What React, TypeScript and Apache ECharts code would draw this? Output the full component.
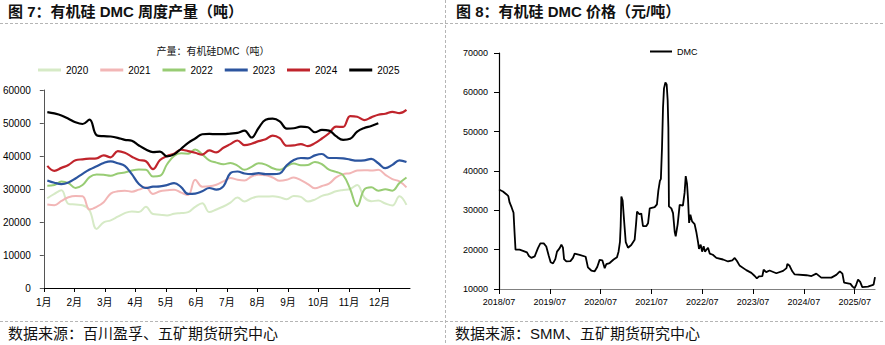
import React, { useEffect, useRef } from "react";
import * as echarts from "echarts";

const MONTH_LABELS = ["1月", "2月", "3月", "4月", "5月", "6月", "7月", "8月", "9月", "10月", "11月", "12月"];
const YEARS = ["2020", "2021", "2022", "2023", "2024", "2025"];
const YEAR_COLORS = ["#d6eac6", "#f2b6b6", "#98cc74", "#2c559f", "#c0242c", "#000000"];
const YEAR_WIDTHS = [2, 2, 2, 2.2, 2.2, 2.2];

const PROD_2020 = [27200, 28500, 29600, 25500, 25300, 25100, 23500, 17900, 19900, 20500,
  21600, 22700, 23200, 23000, 24600, 22400, 22200, 22000, 22500, 22700,
  23000, 24600, 25700, 23000, 23800, 24700, 25900, 27400, 26200, 27200,
  27700, 27700, 27800, 27500, 26900, 27900, 27600, 26200, 26800, 27900,
  28500, 29300, 29700, 30000, 31200, 27500, 26300, 26500, 25600, 25000,
  27800, 25200];
const PROD_2021 = [25300, 25100, 26400, 27500, 27900, 27800, 23800, 24600, 26000, 28600,
  29300, 29500, 29200, 29800, 30500, 28500, 29300, 29600, 29800, 28900,
  28200, 32800, 30700, 30800, 31300, 32300, 33300, 32800, 32600, 33800,
  34300, 34200, 33500, 32500, 32800, 33500, 32700, 31500, 30200, 30900,
  31600, 33500, 34500, 34800, 35600, 35700, 35600, 35800, 34300, 33000,
  32300, 30500];
const PROD_2022 = [31000, 31200, 32300, 31800, 30300, 31200, 33600, 34400, 34300, 34000,
  34700, 35000, 35600, 35900, 35800, 33800, 34000, 37500, 40000, 40800,
  40700, 42000, 40500, 38700, 38000, 37500, 37900, 37100, 35800, 36700,
  37800, 37400, 36300, 35800, 36900, 37700, 37200, 37300, 38200, 37500,
  35900, 35200, 34200, 30000, 24800, 29800, 30500, 29500, 29900, 29500,
  31800, 33500];
const PROD_2023 = [32600, 31900, 31500, 32000, 33200, 34600, 35900, 36900, 37900, 38400,
  37800, 37000, 34500, 31500, 30300, 30700, 30800, 31200, 31800, 30600,
  28500, 28600, 29300, 30300, 29800, 30800, 34800, 35300, 34700, 34500,
  34800, 34500, 34500, 34700, 37200, 38800, 39400, 39300, 40200, 40600,
  39400, 39400, 39300, 38900, 38600, 38700, 39100, 37800, 36300, 37300,
  38700, 38200];
const PROD_2024 = [37000, 35500, 36400, 37300, 38700, 39000, 39200, 39300, 40200, 39600,
  41500, 41000, 39800, 38800, 38400, 36000, 38800, 40000, 40700, 41900,
  41500, 41000, 40400, 41700, 41100, 42500, 43600, 44700, 43300, 43700,
  44500, 45100, 46200, 45400, 43100, 43200, 43600, 43000, 43900, 45300,
  46900, 48900, 48800, 52100, 51900, 50900, 51700, 52500, 52800, 53400,
  53000, 54000];
const PROD_2025 = [53300, 52900, 52300, 51300, 50200, 49700, 51000, 46300, 46000, 45900,
  45500, 44900, 44600, 43200, 42000, 41200, 41300, 39900, 40500, 42200,
  44000, 45300, 46600, 46700, 46600, 46600, 46800, 47000, 47700, 45600,
  48500, 51000, 51300, 50500, 48300, 48400, 48900, 48700, 47200, 47900,
  47700, 46000, 44900, 45200, 47400, 48500, 49100, 49900];
const PRODUCTION = [PROD_2020, PROD_2021, PROD_2022, PROD_2023, PROD_2024, PROD_2025];

const PRICE_YEAR_LABELS = ["2018/07", "2019/07", "2020/07", "2021/07", "2022/07", "2023/07", "2024/07", "2025/07"];
const DMC_PRICE: [string, number][] = [
  ["2018-07-01", 35300], ["2018-07-29", 34800], ["2018-08-23", 34100], ["2018-09-07", 33600],
  ["2018-09-16", 32000], ["2018-09-30", 30800], ["2018-10-14", 29400], ["2018-10-21", 24500],
  ["2018-10-28", 20000], ["2018-11-27", 20000], ["2018-12-21", 19700], ["2019-01-19", 19300],
  ["2019-02-03", 18400], ["2019-02-20", 17900], ["2019-03-14", 18300], ["2019-04-07", 20400],
  ["2019-04-24", 21600], ["2019-05-18", 21600], ["2019-06-06", 20800], ["2019-06-23", 18500],
  ["2019-07-07", 16800], ["2019-07-24", 16500], ["2019-08-10", 17600], ["2019-08-22", 19500],
  ["2019-09-11", 20400], ["2019-09-23", 21300], ["2019-10-04", 20500], ["2019-10-12", 17600],
  ["2019-10-28", 17000], ["2019-11-27", 17100], ["2019-12-15", 17900], ["2019-12-27", 19000],
  ["2020-02-02", 18700], ["2020-03-15", 18200], ["2020-04-01", 15500], ["2020-04-25", 14700],
  ["2020-05-19", 14500], ["2020-06-07", 15600], ["2020-06-24", 17400], ["2020-07-13", 17300],
  ["2020-07-30", 15300], ["2020-08-11", 16300], ["2020-09-05", 16600], ["2020-10-03", 17500],
  ["2020-10-27", 18100], ["2020-11-08", 19500], ["2020-11-18", 22000], ["2020-11-23", 26000],
  ["2020-11-28", 33500], ["2020-12-07", 32500], ["2020-12-17", 27500], ["2020-12-29", 21900],
  ["2021-01-15", 20500], ["2021-02-08", 21200], ["2021-03-02", 22500], ["2021-03-12", 26500],
  ["2021-03-19", 29700], ["2021-04-07", 29000], ["2021-04-19", 29200], ["2021-05-01", 26000],
  ["2021-05-25", 26000], ["2021-06-07", 26700], ["2021-06-19", 30500], ["2021-07-24", 30800],
  ["2021-08-10", 31500], ["2021-08-20", 35000], ["2021-09-01", 37500], ["2021-09-08", 38000],
  ["2021-09-16", 46000], ["2021-09-23", 56000], ["2021-09-30", 61000], ["2021-10-10", 62500],
  ["2021-10-19", 62000], ["2021-10-26", 58000], ["2021-11-01", 51000], ["2021-11-05", 31000],
  ["2021-11-22", 30500], ["2021-12-04", 29300], ["2021-12-16", 24500], ["2021-12-23", 23400],
  ["2022-01-07", 26500], ["2022-01-21", 31400], ["2022-02-14", 31200], ["2022-02-26", 34500],
  ["2022-03-04", 38700], ["2022-03-13", 36800], ["2022-03-20", 33000], ["2022-03-28", 26800],
  ["2022-04-07", 28900], ["2022-04-19", 27200], ["2022-05-07", 26500], ["2022-05-19", 24500],
  ["2022-06-01", 22000], ["2022-06-08", 20200], ["2022-06-20", 21300], ["2022-06-30", 19500],
  ["2022-07-11", 20900], ["2022-07-20", 19500], ["2022-08-12", 20500], ["2022-08-24", 19000],
  ["2022-09-16", 18700], ["2022-10-11", 17900], ["2022-11-28", 17500], ["2023-01-04", 17000],
  ["2023-02-04", 17300], ["2023-02-21", 17900], ["2023-03-07", 17100], ["2023-03-25", 16000],
  ["2023-05-13", 14800], ["2023-06-19", 14100], ["2023-07-13", 13300], ["2023-07-28", 12700],
  ["2023-08-13", 13200], ["2023-09-07", 13300], ["2023-09-16", 14900], ["2023-10-04", 14300],
  ["2023-10-28", 14700], ["2023-12-16", 14000], ["2024-02-04", 14600], ["2024-02-28", 15300],
  ["2024-03-04", 16400], ["2024-03-20", 15900], ["2024-04-09", 14500], ["2024-04-26", 13700],
  ["2024-07-19", 13500], ["2024-08-25", 13300], ["2024-09-29", 13900], ["2024-11-04", 12900],
  ["2025-01-16", 12900], ["2025-02-21", 13600], ["2025-03-16", 14500], ["2025-04-04", 13900],
  ["2025-04-16", 11600], ["2025-06-01", 11300], ["2025-06-16", 10600], ["2025-07-01", 10200],
  ["2025-07-13", 11200], ["2025-07-25", 12400], ["2025-08-10", 11800], ["2025-08-25", 10500],
  ["2025-10-05", 10600], ["2025-11-06", 11000], ["2025-11-15", 11100], ["2025-11-25", 13000],
];

const CJK = "'Liberation Sans', 'Noto Sans CJK SC', sans-serif";
const NUM = "'Liberation Sans', Arial, sans-serif";

function weekToMonth(i: number): number {
  return ((i + 0.5) * 12) / 52;
}
function dateToMonths(d: string): number {
  const [y, m, day] = d.split("-").map(Number);
  return (y - 2018) * 12 + (m - 7) + (day - 1) / 30;
}
const plain = (v: number) => String(v);

export default function App() {
  const ref = useRef<HTMLDivElement>(null);
  useEffect(() => {
    if (!ref.current) return;
    const chart = echarts.init(ref.current, null, { renderer: "svg" });
    const dash = { stroke: "#b5b5b5", lineWidth: 1, lineDash: [3, 2] };
    const option: any = {
      animation: false,
      backgroundColor: "#ffffff",
      textStyle: { fontFamily: CJK },
      grid: [
        { left: 42, top: 90, width: 368, height: 198 },
        { left: 499, top: 53, width: 376, height: 236 },
      ],
      xAxis: [
        {
          gridIndex: 0, type: "value", min: 0, max: 12,
          axisLine: { show: true, lineStyle: { color: "#000", width: 1 } },
          axisTick: { show: true, length: 4, customValues: MONTH_LABELS.map((_, i) => i), lineStyle: { color: "#000" } },
          axisLabel: {
            customValues: MONTH_LABELS.map((_, i) => i),
            formatter: (v: number) => MONTH_LABELS[Math.round(v)] ?? "",
            fontSize: 10, color: "#000", margin: 9, fontFamily: CJK,
          },
          splitLine: { show: false },
        },
        {
          gridIndex: 1, type: "value", min: 0, max: 88.8,
          axisLine: { show: true, lineStyle: { color: "#808080", width: 1.2 } },
          axisTick: { show: true, length: 5, customValues: PRICE_YEAR_LABELS.map((_, i) => i * 12), lineStyle: { color: "#000" } },
          axisLabel: {
            customValues: PRICE_YEAR_LABELS.map((_, i) => i * 12),
            formatter: (v: number) => PRICE_YEAR_LABELS[Math.round(v / 12)] ?? "",
            fontSize: 9, color: "#000", margin: 8, fontFamily: NUM,
          },
          splitLine: { show: false },
        },
      ],
      yAxis: [
        {
          gridIndex: 0, type: "value", min: 0, max: 60000, interval: 10000,
          axisLine: { show: true, lineStyle: { color: "#555", width: 1 } },
          axisTick: { show: true, length: 4, lineStyle: { color: "#555" } },
          axisLabel: { fontSize: 10, color: "#000", margin: 13, fontFamily: NUM, formatter: plain },
          splitLine: { show: false },
        },
        {
          gridIndex: 1, type: "value", min: 10000, max: 70000, interval: 10000,
          axisLine: { show: true, lineStyle: { color: "#000", width: 1.2 } },
          axisTick: { show: true, length: 5, lineStyle: { color: "#000" } },
          axisLabel: { fontSize: 9, color: "#000", margin: 11, fontFamily: NUM, formatter: plain },
          splitLine: { show: false },
        },
      ],
      legend: [
        {
          data: YEARS, left: 38, top: 65, padding: 0, itemGap: 12,
          itemWidth: 23, itemHeight: 3, icon: "rect",
          textStyle: { fontSize: 10, color: "#000", fontFamily: NUM },
        },
        {
          data: ["DMC"], left: 650, top: 47, padding: 0,
          itemWidth: 22, itemHeight: 2, icon: "rect",
          textStyle: { fontSize: 9, color: "#000", fontFamily: NUM },
        },
      ],
      series: [
        ...YEARS.map((name, k) => ({
          name, type: "line", xAxisIndex: 0, yAxisIndex: 0,
          data: PRODUCTION[k].map((v, i) => [weekToMonth(i), v]),
          showSymbol: false, smooth: 0.4, color: YEAR_COLORS[k],
          lineStyle: { width: YEAR_WIDTHS[k], color: YEAR_COLORS[k] },
          z: 2 + k,
        })),
        {
          name: "DMC", type: "line", xAxisIndex: 1, yAxisIndex: 1,
          data: DMC_PRICE.map(([d, v]) => [dateToMonths(d), v]),
          showSymbol: false, color: "#000",
          lineStyle: { width: 1.8, color: "#000" },
        },
      ],
      graphic: [
        { type: "line", shape: { x1: 0, y1: 23.5, x2: 885, y2: 23.5 }, style: dash, silent: true },
        { type: "line", shape: { x1: 0, y1: 321.5, x2: 885, y2: 321.5 }, style: dash, silent: true },
        { type: "line", shape: { x1: 445.5, y1: 0, x2: 445.5, y2: 345 }, style: dash, silent: true },
        {
          type: "text", x: 8, y: 11,
          style: { text: "图 7：有机硅 DMC 周度产量（吨）", font: `bold 15px ${CJK}`, fill: "#111", textVerticalAlign: "middle" },
        },
        {
          type: "text", x: 456, y: 11,
          style: { text: "图 8：有机硅 DMC 价格（元/吨）", font: `bold 15px ${CJK}`, fill: "#111", textVerticalAlign: "middle" },
        },
        {
          type: "text", x: 213, y: 51,
          style: { text: "产量：有机硅DMC（吨）", font: `10px ${CJK}`, fill: "#111", textAlign: "center", textVerticalAlign: "middle" },
        },
        {
          type: "text", x: 8, y: 333,
          style: { text: "数据来源：百川盈孚、五矿期货研究中心", font: `15px ${CJK}`, fill: "#111", textVerticalAlign: "middle" },
        },
        {
          type: "text", x: 455, y: 333,
          style: { text: "数据来源：SMM、五矿期货研究中心", font: `15px ${CJK}`, fill: "#111", textVerticalAlign: "middle" },
        },
      ],
    };
    chart.setOption(option);
    return () => chart.dispose();
  }, []);
  return (
    <div
      ref={ref}
      style={{ position: "absolute", left: 0, top: 0, width: 885, height: 345, background: "#fff" }}
    />
  );
}
